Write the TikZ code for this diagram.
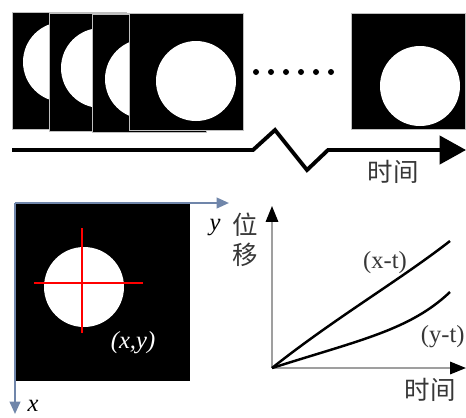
\documentclass[tikz,border=0pt]{standalone}
\usepackage{fontspec}
\setmainfont{Liberation Serif}
\newfontfamily\cjk{Noto Sans CJK SC}
\usepackage{tikz}
\usetikzlibrary{arrows.meta}
\definecolor{axisblue}{RGB}{112,134,170}
\definecolor{txtgray}{RGB}{55,55,55}

\begin{document}
\begin{tikzpicture}[
  x=0.02cm, y=-0.02cm,
  frame/.style={draw=gray!50, line width=0.4pt},
  lbl/.style={inner sep=0pt, font=\fontsize{14}{16}\selectfont},
  zh/.style={inner sep=0pt, font=\cjk\fontsize{14.5}{16}\selectfont, text=txtgray},
  blueaxis/.style={axisblue, line width=1.2pt, -{Triangle[length=7pt,width=6pt]}},
  grayaxis/.style={gray!75, line width=1.1pt, -{Triangle[length=9pt,width=7pt,black]}},
  curve/.style={black, line width=1.4pt}
]
  \useasboundingbox (0,0) rectangle (466,417);

  % frames, circle moving right
  \foreach \fx/\fy/\fh/\cx/\cy in {12/12/117/63/62, 49/13/118/101/68, 92/14/118/145/79, 129/13/117/196/81, 351/13/116/420/86} {
    \begin{scope}
      \clip (\fx,\fy) rectangle ++(114,\fh);
      \fill[black] (\fx,\fy) rectangle ++(114,\fh);
      \fill[white] (\cx,\cy) circle[radius=0.8cm];
    \end{scope}
    \draw[frame] (\fx,\fy) rectangle ++(114,\fh);
  }
  \foreach \i in {0,...,5}
    \fill (256+15*\i,72) circle[radius=0.06cm];

  % time line
  \coordinate (t0) at (12,150);
  \coordinate (z1) at (253,150);
  \coordinate (z2) at (275,130);
  \coordinate (z3) at (307,170);
  \coordinate (z4) at (328,150);
  \coordinate (t1) at (466,150);
  \draw[line width=2.2pt, -{Triangle[length=15pt,width=16pt]}]
    (t0) -- (z1) -- (z2) -- (z3) -- (z4) -- (t1);
  \node[zh] (time1) at (393,172) {时间};

  % image with centroid
  \fill[black] (15,203) rectangle (190,381);
  \fill[white] (84,287) circle[radius=0.8cm];
  \coordinate (hl) at (34,283);
  \coordinate (hr) at (143,283);
  \coordinate (vt) at (82,228);
  \coordinate (vb) at (82,333);
  \draw[red, line width=1.2pt] (hl) -- (hr) (vt) -- (vb);
  \node[lbl, text=white] (pos) at (133,343) {\textit{(x,y)}};

  \coordinate (o1) at (15,203);
  \coordinate (ye) at (229,203);
  \coordinate (xe) at (15,414);
  \draw[blueaxis] (o1) -- (ye);
  \draw[blueaxis] (o1) -- (xe);
  \node[lbl] (ylab) at (215,227) {\textit{y}};
  \node[lbl] (xlab) at (33,406) {\textit{x}};

  % displacement plot
  \coordinate (o2) at (272,368);
  \coordinate (v2) at (272,206);
  \coordinate (h2) at (466,368);
  \draw[grayaxis] (o2) -- (v2);
  \draw[grayaxis] (o2) -- (h2);
  \node[zh] (wei) at (245,225) {位};
  \node[zh] (yi) at (245,255) {移};
  \node[zh] (time2) at (430,390) {时间};

  \coordinate (xt) at (450,241);
  \coordinate (yt) at (450,292);
  \draw[curve] (o2) .. controls (335,318) and (400,280) .. (xt);
  \draw[curve] (o2) .. controls (360,340) and (410,330) .. (yt);
  \node[lbl, text=txtgray] (xtlab) at (385,263) {(x-t)};
  \node[lbl, text=txtgray, anchor=east] (ytlab) at (465,337) {(y-t)};
\end{tikzpicture}
\end{document}
